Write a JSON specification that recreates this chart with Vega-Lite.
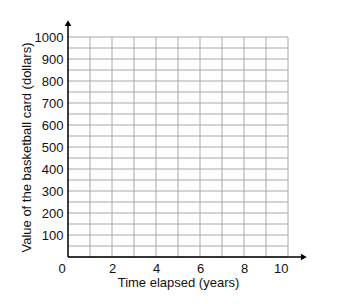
{
  "$schema": "https://vega.github.io/schema/vega-lite/v6.json",
  "autosize": "none",
  "width": 220,
  "height": 220,
  "padding": {"left": 68, "top": 37, "right": 65, "bottom": 47},
  "background": "white",
  "config": {
    "view": {"stroke": null},
    "font": "Liberation Sans",
    "axis": {"labelFont": "Liberation Sans", "titleFont": "Liberation Sans", "labelFontSize": 13, "titleFontSize": 13, "titleFontWeight": "normal", "labelColor": "#111", "titleColor": "#111", "grid": false, "labelOverlap": false, "ticks": false, "domain": false, "labelPadding": 5, "titlePadding": 1, "format": "d"}
  },
  "datasets": {
    "axes": [
      {"x1": 0, "y1": 0, "x2": 0, "y2": 1065},
      {"x1": 0, "y1": 0, "x2": 10.7, "y2": 0}
    ],
    "arrows": [
      {"x": 0, "y": 1063, "shape": "triangle-up"},
      {"x": 10.72, "y": 0, "shape": "triangle-right"}
    ]
  },
  "layer": [
    {
      "data": {"values": [{"v": 0}, {"v": 50}, {"v": 100}, {"v": 150}, {"v": 200}, {"v": 250}, {"v": 300}, {"v": 350}, {"v": 400}, {"v": 450}, {"v": 500}, {"v": 550}, {"v": 600}, {"v": 650}, {"v": 700}, {"v": 750}, {"v": 800}, {"v": 850}, {"v": 900}, {"v": 950}, {"v": 1000}]},
      "mark": {"type": "rule", "color": "#a8a8a8", "strokeWidth": 1},
      "encoding": {
        "y": {"field": "v", "type": "quantitative", "scale": {"domain": [0, 1000], "nice": false},
          "axis": {"title": "Value of the basketball card (dollars)", "format": "d", "values": [100, 200, 300, 400, 500, 600, 700, 800, 900, 1000]}},
        "x": {"datum": 0, "type": "quantitative", "scale": {"domain": [0, 10], "nice": false},
          "axis": {"title": "Time elapsed (years)", "format": "d", "values": [0, 2, 4, 6, 8, 10], "labelOffset": {"expr": "datum.value == 0 ? -10 : 0"}}},
        "x2": {"datum": 10}
      }
    },
    {
      "data": {"values": [{"v": 1}, {"v": 2}, {"v": 3}, {"v": 4}, {"v": 5}, {"v": 6}, {"v": 7}, {"v": 8}, {"v": 9}, {"v": 10}]},
      "mark": {"type": "rule", "color": "#a8a8a8", "strokeWidth": 1},
      "encoding": {
        "x": {"field": "v", "type": "quantitative",
          "axis": {"title": "Time elapsed (years)", "format": "d", "values": [0, 2, 4, 6, 8, 10], "labelOffset": {"expr": "datum.value == 0 ? -10 : 0"}}},
        "y": {"datum": 0, "type": "quantitative",
          "axis": {"title": "Value of the basketball card (dollars)", "format": "d", "values": [100, 200, 300, 400, 500, 600, 700, 800, 900, 1000]}},
        "y2": {"datum": 1000}
      }
    },
    {
      "data": {"name": "axes"},
      "mark": {"type": "rule", "color": "black", "strokeWidth": 1.5},
      "encoding": {
        "x": {"field": "x1", "type": "quantitative",
          "axis": {"title": "Time elapsed (years)", "format": "d", "values": [0, 2, 4, 6, 8, 10], "labelOffset": {"expr": "datum.value == 0 ? -10 : 0"}}},
        "y": {"field": "y1", "type": "quantitative",
          "axis": {"title": "Value of the basketball card (dollars)", "format": "d", "values": [100, 200, 300, 400, 500, 600, 700, 800, 900, 1000]}},
        "x2": {"field": "x2"},
        "y2": {"field": "y2"}
      }
    },
    {
      "data": {"name": "arrows"},
      "mark": {"type": "point", "filled": true, "color": "black", "opacity": 1, "size": 45},
      "encoding": {
        "x": {"field": "x", "type": "quantitative",
          "axis": {"title": "Time elapsed (years)", "format": "d", "values": [0, 2, 4, 6, 8, 10], "labelOffset": {"expr": "datum.value == 0 ? -10 : 0"}}},
        "y": {"field": "y", "type": "quantitative",
          "axis": {"title": "Value of the basketball card (dollars)", "format": "d", "values": [100, 200, 300, 400, 500, 600, 700, 800, 900, 1000]}},
        "shape": {"field": "shape", "type": "nominal", "scale": null, "legend": null}
      }
    }
  ]
}
